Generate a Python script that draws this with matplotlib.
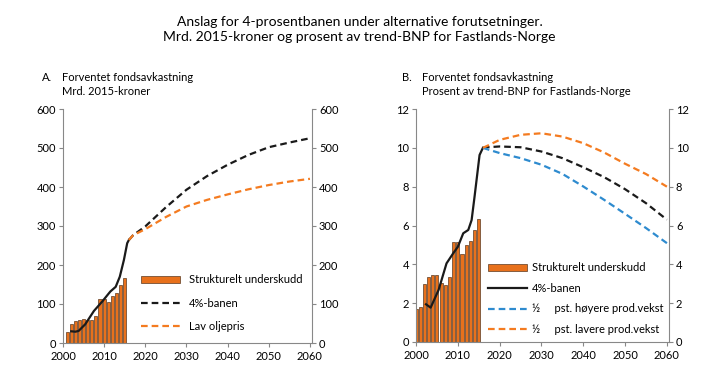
import matplotlib.pyplot as plt
from matplotlib.patches import Patch
from matplotlib.lines import Line2D

plt.rcParams['font.family'] = ['Lato', 'DejaVu Sans']
plt.rcParams['font.size'] = 8

# Panel A: Mrd. 2015-kroner
bar_years_a = list(range(2001, 2016))
underskudd_a = [27, 49, 56, 60, 62, 58, 58, 68, 112, 113, 104, 120, 128, 148, 166]
hist_years_a = [2002, 2003, 2003.8, 2005.4, 2007.5, 2009.5, 2011.5, 2012.8, 2013.8, 2014.8, 2015.6, 2016]
hist_a = [30, 29, 31, 48, 82, 106, 132, 144, 170, 213, 256, 264]
proj_years = [2016, 2017, 2020, 2025, 2030, 2035, 2040, 2045, 2050, 2055, 2060]
bane_a = [264, 276, 299, 348, 393, 428, 457, 482, 502, 514, 525]
lav_olje_a = [264, 276, 292, 323, 350, 367, 381, 394, 405, 414, 421]

# Panel B: Prosent av trend-BNP
bar_years_b = list(range(2000, 2016))
underskudd_b = [1.70, 1.82, 2.98, 3.33, 3.46, 3.43, 3.04, 2.95, 3.33, 5.16, 5.16, 4.51, 4.97, 5.18, 5.78, 6.35]
hist_years_b = [2002.4, 2003.5, 2005.4, 2007.3, 2008.9, 2010, 2011.3, 2012.5, 2013.3, 2014.0, 2015.2, 2016]
hist_b = [1.94, 1.77, 2.68, 4.05, 4.57, 4.9, 5.6, 5.77, 6.28, 7.48, 9.63, 10.0]
bane_b = [10.0, 10.03, 10.07, 10.03, 9.81, 9.47, 9.0, 8.49, 7.87, 7.15, 6.3]
hoyere_b = [10.0, 9.93, 9.73, 9.47, 9.13, 8.66, 8.01, 7.32, 6.6, 5.87, 5.09]
lavere_b = [10.0, 10.1, 10.41, 10.67, 10.75, 10.58, 10.24, 9.76, 9.18, 8.65, 8.0]

bar_col = '#E8711C'
orange = '#F47B20'
blue = '#2E8BCF'
black = '#1a1a1a'
dash = (0, (3, 1.8))

fig = plt.figure(figsize=(7.19, 3.9), dpi=100)
fig.text(0.5, 0.925, 'Anslag for 4-prosentbanen under alternative forutsetninger.\n'
         'Mrd. 2015-kroner og prosent av trend-BNP for Fastlands-Norge',
         ha='center', va='center', fontsize=10, linespacing=1.35)

ax1 = fig.add_axes([63 / 719, 1 - 343 / 390, 249 / 719, 234 / 390])
ax2 = fig.add_axes([416 / 719, 1 - 342 / 390, 253 / 719, 233 / 390])


def style(ax, ymax, step):
    ax.set_xlim(2000, 2060.5)
    ax.set_ylim(0, ymax)
    ax.set_xticks(range(2000, 2061, 10))
    ax.set_yticks([i * step for i in range(int(ymax / step) + 1)])
    ax.spines['top'].set_visible(False)
    for s in ['left', 'right', 'bottom']:
        ax.spines[s].set_color('#888888')
        ax.spines[s].set_linewidth(0.8)
    ax.tick_params(length=3, color='#888888', labelsize=8, pad=2,
                   right=True, labelright=True)
    ax.tick_params(axis='x', pad=3)


# Panel A
ax1.bar(bar_years_a, underskudd_a, width=0.75, color=bar_col, edgecolor='#5a3a20', linewidth=0.5)
ax1.plot(hist_years_a, hist_a, color=black, lw=1.6)
ax1.plot(proj_years, bane_a, color=black, lw=1.6, ls=dash)
ax1.plot(proj_years, lav_olje_a, color=orange, lw=1.6, ls=dash)
style(ax1, 600, 100)
h1 = [Patch(facecolor=bar_col, edgecolor='#5a3a20', linewidth=0.5),
      Line2D([], [], color=black, lw=1.6, ls=dash),
      Line2D([], [], color=orange, lw=1.6, ls=dash)]
ax1.legend(h1, ['Strukturelt underskudd', '4%-banen', 'Lav oljepris'],
           loc='lower left', bbox_to_anchor=(0.27, 0.0), frameon=False,
           fontsize=8, handlelength=3.5, handleheight=0.6, labelspacing=1.1, borderaxespad=0.6)

# Panel B
ax2.bar(bar_years_b, underskudd_b, width=0.75, color=bar_col, edgecolor='#5a3a20', linewidth=0.5)
ax2.plot(hist_years_b, hist_b, color=black, lw=1.6)
ax2.plot(proj_years, bane_b, color=black, lw=1.6, ls=dash)
ax2.plot(proj_years, hoyere_b, color=blue, lw=1.6, ls=dash)
ax2.plot(proj_years, lavere_b, color=orange, lw=1.6, ls=dash)
style(ax2, 12, 2)
h2 = [Patch(facecolor=bar_col, edgecolor='#5a3a20', linewidth=0.5),
      Line2D([], [], color=black, lw=1.6),
      Line2D([], [], color=blue, lw=1.6, ls=dash),
      Line2D([], [], color=orange, lw=1.6, ls=dash)]
ax2.legend(h2, ['Strukturelt underskudd', '4%-banen', '½     pst. høyere prod.vekst',
                '½     pst. lavere prod.vekst'],
           loc='lower left', bbox_to_anchor=(0.255, 0.0), frameon=False,
           fontsize=8, handlelength=3.5, handleheight=0.6, handletextpad=0.5,
           labelspacing=0.85, borderaxespad=0.25)

fig.text(42 / 719, 1 - 72 / 390, 'A.', fontsize=8, va='top')
fig.text(62 / 719, 1 - 72 / 390, 'Forventet fondsavkastning\nMrd. 2015-kroner',
         fontsize=8, va='top', linespacing=1.3)
fig.text(402 / 719, 1 - 72 / 390, 'B.', fontsize=8, va='top')
fig.text(422 / 719, 1 - 72 / 390, 'Forventet fondsavkastning\nProsent av trend-BNP for Fastlands-Norge',
         fontsize=8, va='top', linespacing=1.3)

fig.savefig('out.png', dpi=100)
